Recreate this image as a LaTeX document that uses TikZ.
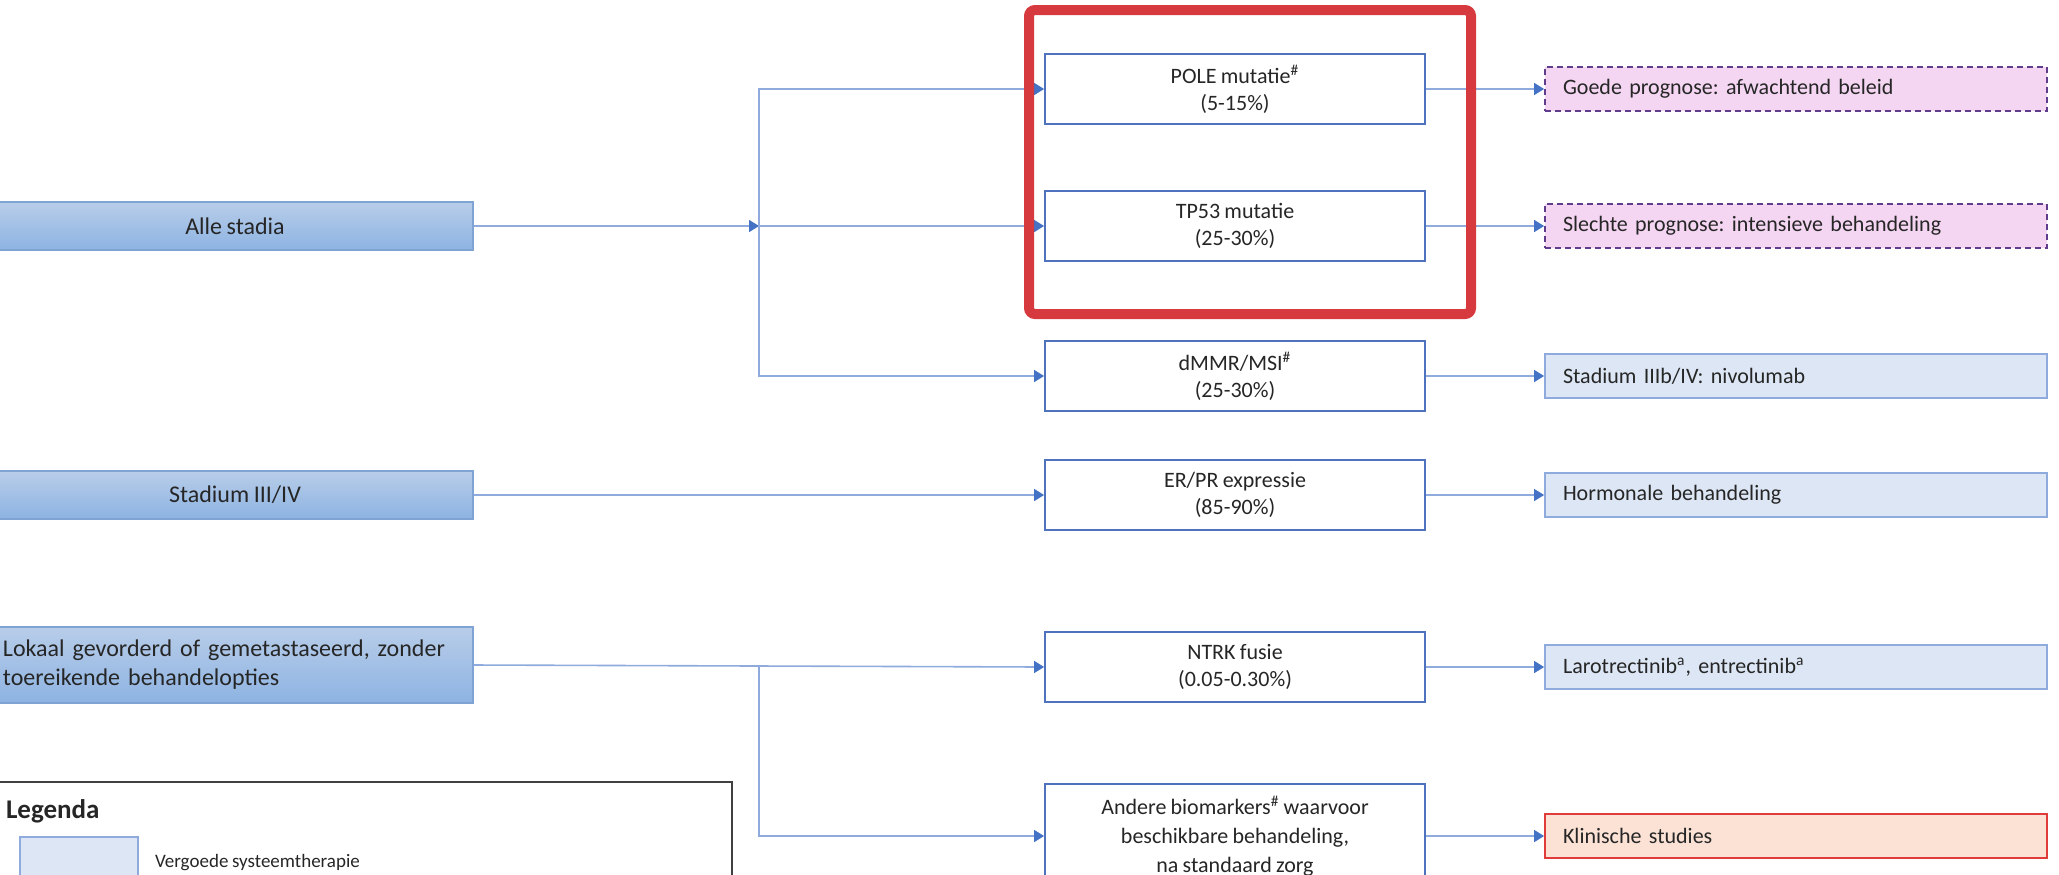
\documentclass[tikz,border=0pt]{standalone}
\usepackage{fontspec}
\setmainfont[WordSpace=0.85]{Carlito}
\usetikzlibrary{arrows.meta}
\definecolor{stagetop}{RGB}{184,205,233}
\definecolor{stagebot}{RGB}{141,179,226}
\definecolor{stageline}{RGB}{127,163,211}
\definecolor{boxline}{RGB}{79,114,190}
\definecolor{linkline}{RGB}{143,170,220}
\definecolor{tipblue}{RGB}{68,114,196}
\definecolor{treatfill}{RGB}{220,230,244}
\definecolor{treatline}{RGB}{143,170,220}
\definecolor{progfill}{RGB}{244,214,242}
\definecolor{progline}{RGB}{96,60,140}
\definecolor{trialfill}{RGB}{251,226,213}
\definecolor{trialline}{RGB}{224,60,60}
\definecolor{hlred}{RGB}{214,58,62}
\definecolor{txt}{RGB}{38,38,38}
\frenchspacing

\begin{document}
\begin{tikzpicture}[x=0.5pt,y=-0.5pt,
  stage/.style={rectangle, top color=stagetop, bottom color=stagebot, draw=stageline, line width=0.6pt,
    minimum width=238pt, minimum height=24pt, font=\fontsize{12}{14.5}\selectfont, text=txt},
  marker/.style={rectangle, fill=white, draw=boxline, line width=0.9pt, minimum width=190pt,
    minimum height=35pt, align=center, font=\fontsize{11}{13.5}\selectfont, text=txt},
  result/.style={rectangle, line width=0.9pt, minimum height=22pt, text width=233pt, inner xsep=9pt,
    align=left, font=\fontsize{11}{13}\selectfont, text=txt},
  treat/.style={result, fill=treatfill, draw=treatline},
  prog/.style={result, fill=progfill, draw=progline, dash pattern=on 3pt off 2pt},
  trial/.style={result, fill=trialfill, draw=trialline},
  link/.style={draw=linkline, line width=0.8pt, -{Triangle[length=5pt,width=6pt,color=tipblue]}},
  hilite/.style={draw=hlred, line width=5pt, rounded corners=3pt}]
  \useasboundingbox (0,0) rectangle (2059,874);
  \clip (0,0) rectangle (2059,874);

  % starting groups
  \node[stage] (alle) at (235,226) {Alle stadia};
  \node[stage] (stadium) at (235,495) {Stadium III/IV};
  \node[stage, minimum height=38pt, text width=232pt, inner xsep=3pt, align=left] (lokaal) at (235,665)
    {Lokaal gevorderd of gemetastaseerd, zonder\\toereikende behandelopties};

  % biomarkers
  \node[marker] (pole) at (1235,89) {POLE mutatie\textsuperscript{\#}\\(5-15\%)};
  \node[marker] (tp53) at (1235,226) {TP53 mutatie\\(25-30\%)};
  \node[marker] (dmmr) at (1235,376) {dMMR/MSI\textsuperscript{\#}\\(25-30\%)};
  \node[marker] (erpr) at (1235,495) {ER/PR expressie\\(85-90\%)};
  \node[marker] (ntrk) at (1235,667) {NTRK fusie\\(0.05-0.30\%)};
  \node[marker, minimum height=52pt, font=\fontsize{11}{14.5}\selectfont] (andere) at (1235,836)
    {Andere biomarkers\textsuperscript{\#} waarvoor\\beschikbare behandeling,\\na standaard zorg};

  % behandeling
  \node[prog] (goede) at (1796,89) {Goede prognose: afwachtend beleid};
  \node[prog] (slechte) at (1796,226) {Slechte prognose: intensieve behandeling};
  \node[treat] (nivo) at (1796,376) {Stadium IIIb/IV: nivolumab};
  \node[treat] (hormoon) at (1796,495) {Hormonale behandeling};
  \node[treat] (laro) at (1796,667) {Larotrectinib\textsuperscript{a}, entrectinib\textsuperscript{a}};
  \node[trial] (klinisch) at (1796,836) {Klinische studies};

  % connectors
  \coordinate (split) at (759,226);
  \draw[link] (alle.east) -- (split);
  \draw[link] (split) -- (tp53.west);
  \draw[link] (split) |- (pole.west);
  \draw[link] (split) |- (dmmr.west);
  \draw[link] (stadium.east) -- (erpr.west);
  \draw[link] (lokaal.east) -- (ntrk.west);
  \path (lokaal.east -| split) coordinate (split2);
  \draw[link] (split2) |- (andere.west);
  \foreach \a/\b in {pole/goede, tp53/slechte, dmmr/nivo, erpr/hormoon, ntrk/laro, andere/klinisch}
    \draw[link] (\a.east) -- (\b.west);

  % highlight
  \draw[hilite] (1029,10) rectangle (1471,314);

  % legend
  \draw[draw=black!75, line width=1pt] (-5,782) rectangle (732,900);
  \node[anchor=west, font=\bfseries\fontsize{13.5}{15}\selectfont, text=txt] (legenda) at (-1,811) {Legenda};
  \draw[fill=treatfill, draw=treatline, line width=0.9pt] (20,837) rectangle (138,900);
  \node[anchor=west, font=\fontsize{9.5}{11}\selectfont, text=txt] (vergoed) at (148,863) {Vergoede systeemtherapie};
\end{tikzpicture}
\end{document}
